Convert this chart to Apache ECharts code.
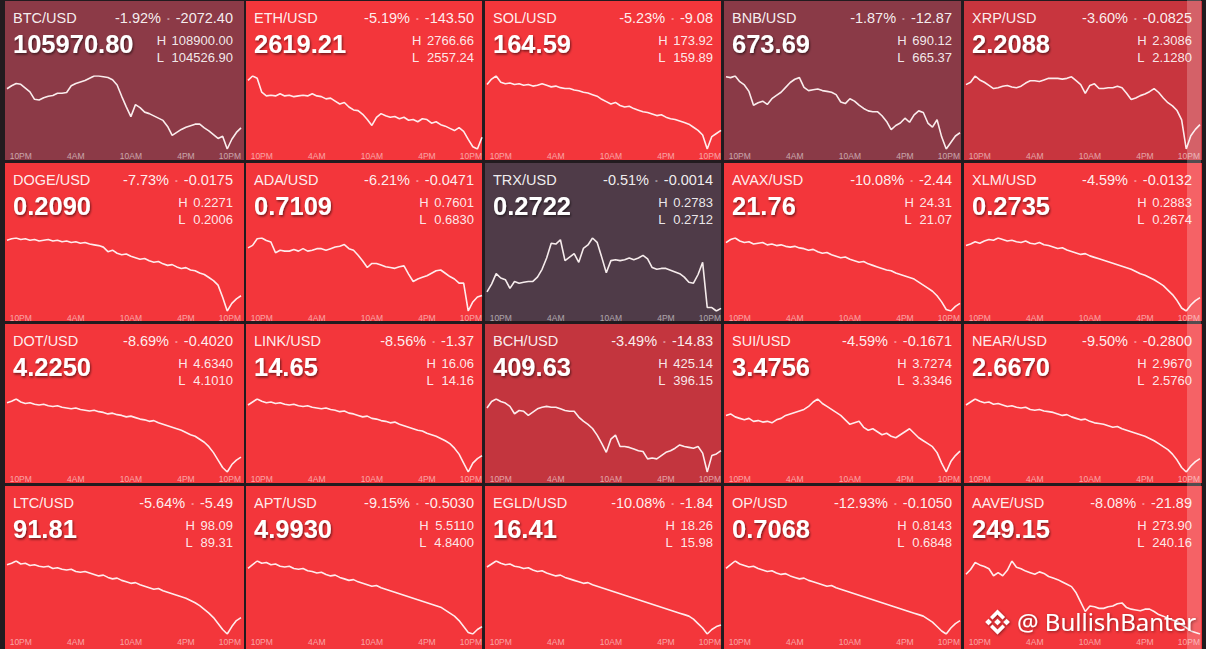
<!DOCTYPE html>
<html><head><meta charset="utf-8">
<script src="https://cdn.jsdelivr.net/npm/echarts@6/dist/echarts.min.js"></script>
<style>html,body{margin:0;padding:0;background:#221b1f;}#c{width:1206px;height:649px;}</style>
</head><body><div id="c"></div>
<script>
// ---- data ----
const pairs = ['BTC/USD','ETH/USD','SOL/USD','BNB/USD','XRP/USD','DOGE/USD','ADA/USD','TRX/USD','AVAX/USD','XLM/USD','DOT/USD','LINK/USD','BCH/USD','SUI/USD','NEAR/USD','LTC/USD','APT/USD','EGLD/USD','OP/USD','AAVE/USD'];
const changePct = ['-1.92%','-5.19%','-5.23%','-1.87%','-3.60%','-7.73%','-6.21%','-0.51%','-10.08%','-4.59%','-8.69%','-8.56%','-3.49%','-4.59%','-9.50%','-5.64%','-9.15%','-10.08%','-12.93%','-8.08%'];
const changeAbs = ['-2072.40','-143.50','-9.08','-12.87','-0.0825','-0.0175','-0.0471','-0.0014','-2.44','-0.0132','-0.4020','-1.37','-14.83','-0.1671','-0.2800','-5.49','-0.5030','-1.84','-0.1050','-21.89'];
const lastPrice = ['105970.80','2619.21','164.59','673.69','2.2088','0.2090','0.7109','0.2722','21.76','0.2735','4.2250','14.65','409.63','3.4756','2.6670','91.81','4.9930','16.41','0.7068','249.15'];
const highPrice = ['108900.00','2766.66','173.92','690.12','2.3086','0.2271','0.7601','0.2783','24.31','0.2883','4.6340','16.06','425.14','3.7274','2.9670','98.09','5.5110','18.26','0.8143','273.90'];
const lowPrice = ['104526.90','2557.24','159.89','665.37','2.1280','0.2006','0.6830','0.2712','21.07','0.2674','4.1010','14.16','396.15','3.3346','2.5760','89.31','4.8400','15.98','0.6848','240.16'];
const tickLabels = ['10PM','4AM','10AM','4PM','10PM'];

// intraday position within the day's range (0 = low, 100 = high), half-hour steps
const btcLine = [82,86,89,88,83,78,68,67,70,72,73,76,76,77,86,89,91,93,96,99,99,98,97,94,87,72,58,45,61,57,51,49,46,43,40,32,20,24,28,31,33,35,35,30,26,21,16,19,2,15,24,30];
const ethLine = [93,99,96,77,72,73,72,75,72,73,71,72,73,72,75,72,71,68,69,65,61,63,57,53,52,47,40,32,43,48,45,43,44,41,43,39,40,37,41,40,35,37,33,31,28,25,29,24,13,3,0,16];
const solLine = [85,92,96,88,86,87,85,86,84,85,83,84,86,84,82,83,81,80,80,78,77,75,74,72,70,66,63,60,62,58,56,57,54,52,50,49,47,45,46,43,41,40,38,36,34,30,26,20,2,18,22,26];
const bnbLine = [99,98,100,93,89,81,64,67,69,65,72,76,80,86,92,96,98,86,82,83,84,82,81,80,77,68,66,72,69,64,60,57,56,56,51,44,34,39,42,48,43,52,57,55,42,37,46,25,10,18,26,30];
const xrpLine = [87,90,98,93,90,86,82,83,85,86,84,83,85,89,92,92,91,93,95,95,95,94,95,97,92,87,76,86,88,82,82,83,83,85,83,76,68,70,73,75,78,82,77,70,64,60,54,42,5,22,30,36];
const dogeLine = [95,97,98,96,97,95,96,94,95,96,94,95,93,94,92,93,91,92,90,89,88,86,80,82,78,76,77,74,72,70,71,68,66,67,64,62,63,60,58,59,56,55,52,50,46,42,36,20,2,12,18,22];
const adaLine = [86,89,97,98,95,93,80,83,82,82,84,82,85,82,83,85,85,83,85,87,88,90,85,83,77,70,62,67,67,65,63,62,61,63,64,54,45,48,50,52,55,58,59,55,51,48,43,43,9,20,26,28];
const trxLine = [36,45,57,52,50,40,48,46,47,48,48,53,62,75,92,91,96,72,76,80,70,86,90,98,93,76,58,72,73,72,73,75,73,75,78,74,64,62,63,63,61,59,57,53,47,46,56,70,18,18,14,17];
const avaxLine = [92,96,98,94,92,93,90,91,92,89,90,88,89,87,86,87,85,84,82,83,80,78,79,76,74,72,73,70,68,66,67,64,62,60,58,56,55,52,50,48,46,44,40,36,32,28,22,14,4,2,8,12];
const xlmLine = [90,92,95,93,96,98,97,100,98,96,97,95,94,96,93,92,94,91,90,88,86,87,84,82,80,78,79,76,74,72,70,68,66,64,62,60,58,55,52,50,47,44,40,36,30,24,16,6,2,10,16,20];
const dotLine = [95,97,100,96,94,95,93,92,93,91,90,91,89,88,87,88,86,85,84,85,83,82,80,81,79,78,76,77,75,73,72,70,71,68,66,64,62,60,58,55,52,50,46,42,36,28,18,8,2,12,18,22];
const linkLine = [92,96,100,97,95,96,94,95,93,92,93,91,90,91,89,88,87,88,86,85,83,84,81,80,78,76,77,74,73,71,70,68,69,66,64,62,60,58,57,54,52,50,47,44,40,34,26,14,2,14,20,24];
const bchLine = [88,96,99,96,94,90,81,85,84,79,83,87,89,90,89,89,87,85,84,84,77,72,68,63,55,45,34,50,55,41,41,40,38,36,35,26,27,26,30,34,36,39,43,41,40,39,41,33,10,30,32,36];
const suiLine = [78,80,76,74,72,74,70,71,69,70,68,72,74,78,80,82,84,86,90,96,100,94,90,86,82,78,72,66,68,70,62,58,60,56,52,54,50,48,52,56,60,54,48,44,40,36,28,14,2,16,24,30];
const nearLine = [92,96,100,97,95,96,93,94,92,90,91,89,88,89,86,85,86,84,83,82,80,78,79,76,74,72,73,70,68,67,66,64,62,63,60,58,56,54,52,50,47,44,40,36,32,26,18,8,2,10,16,20];
const ltcLine = [95,97,100,96,97,94,95,93,92,93,90,91,89,88,89,86,85,86,84,82,80,81,78,76,77,74,72,70,71,68,66,64,62,63,60,58,56,54,52,50,47,44,40,35,30,24,16,8,2,12,20,24];
const aptLine = [90,95,100,97,98,95,96,93,92,93,90,89,90,87,86,84,85,82,80,81,78,76,74,75,72,70,68,66,67,64,62,60,58,56,54,52,50,48,46,44,42,40,38,34,30,26,20,12,4,2,8,12];
const egldLine = [92,96,100,97,95,96,93,92,90,91,88,86,87,84,82,80,81,78,76,74,72,70,71,68,66,64,62,60,58,56,54,52,50,48,46,44,42,40,38,36,34,32,30,28,26,22,16,10,2,8,12,14];
const opLine = [90,95,100,96,94,92,93,90,88,86,87,84,82,83,80,78,76,77,74,72,70,68,66,67,64,62,60,58,56,54,52,50,48,46,44,42,40,38,36,34,32,30,28,26,22,18,12,6,2,10,16,20];
const aaveLine = [82,88,97,94,92,89,80,84,80,87,99,91,89,86,84,82,85,83,79,77,75,72,69,66,58,46,34,41,40,38,38,40,41,44,45,39,37,36,35,37,37,34,30,28,25,23,21,17,13,9,7,5];
const lines = [btcLine,ethLine,solLine,bnbLine,xrpLine,dogeLine,adaLine,trxLine,avaxLine,xlmLine,dotLine,linkLine,bchLine,suiLine,nearLine,ltcLine,aptLine,egldLine,opLine,aaveLine];

// half-hour time slots, 8:30PM .. 10PM next day
const slots = [];
(function(){ let h = 20, m = 30; for (let i = 0; i < 52; i++) { const h12 = (h % 12) || 12; const ap = h < 12 ? 'AM' : 'PM'; slots.push(m ? h12 + ':30' + ap : h12 + ap); m += 30; if (m === 60) { m = 0; h = (h + 1) % 24; } } })();

// ---- layout ----
const colX = [5, 246, 485, 724, 964];
const colW = [239, 236, 236, 237, 238];
const rowY = [1, 163, 324, 486];
const rowH = [159, 158, 159, 163];
const FONT = '"Liberation Sans", Arial, Helvetica, sans-serif';

function mix(a, b, t) {
  const pa = [1,3,5].map(i => parseInt(a.substr(i,2),16));
  const pb = [1,3,5].map(i => parseInt(b.substr(i,2),16));
  return 'rgb(' + pa.map((v,i) => Math.round(v + (pb[i]-v)*t)).join(',') + ')';
}
function tileColor(p) {
  const v = Math.abs(parseFloat(p));
  const stops = [[0.5,'#4f3b48'],[1.9,'#8b3a47'],[3.55,'#c5353e'],[4.3,'#f3363b']];
  if (v <= stops[0][0]) return stops[0][1];
  for (let i = 1; i < stops.length; i++) {
    if (v <= stops[i][0]) return mix(stops[i-1][1], stops[i][1], (v - stops[i-1][0])/(stops[i][0]-stops[i-1][0]));
  }
  return stops[stops.length-1][1];
}

const ctx = document.createElement('canvas').getContext('2d');
function textW(t, font) { ctx.font = font; return ctx.measureText(t).width; }

const grids = [], xAxes = [], yAxes = [], series = [], graphics = [];
pairs.forEach((name, i) => {
  const c = i % 5, r = Math.floor(i / 5);
  const tx = colX[c], ty = rowY[r];
  graphics.push({ type: 'rect', z: -10, shape: { x: tx, y: ty, width: colW[c], height: rowH[r] }, style: { fill: tileColor(changePct[i]) } });
  grids.push({ left: tx + 2, top: ty + 75, width: 234, height: 73 });
  xAxes.push({ type: 'category', gridIndex: i, data: slots, boundaryGap: false,
    axisLine: { show: false }, axisTick: { show: false }, splitLine: { show: false },
    axisLabel: { interval: (idx, val) => tickLabels.indexOf(val) >= 0, color: 'rgba(255,255,255,0.55)', fontSize: 8.5, fontFamily: FONT, margin: r === 3 ? 3 : 2, alignMaxLabel: 'right', showMaxLabel: true } });
  yAxes.push({ type: 'value', gridIndex: i, show: false, scale: true, min: 'dataMin', max: 'dataMax' });
  series.push({ type: 'line', xAxisIndex: i, yAxisIndex: i, data: lines[i], symbol: 'none', silent: true,
    lineStyle: { color: 'rgba(255,246,246,0.95)', width: 1.6 } });
  // texts
  graphics.push({ type: 'text', z: 20, style: { x: tx + 8, y: ty + 17, text: name, fill: 'rgba(255,255,255,0.93)', font: '14.5px ' + FONT, verticalAlign: 'middle' } });
  graphics.push({ type: 'text', z: 20, style: { x: tx + 228, y: ty + 17, align: 'right', verticalAlign: 'middle',
    text: '{a|' + changePct[i] + '}{d|•}{a|' + changeAbs[i] + '}',
    rich: { a: { fill: 'rgba(255,255,255,0.93)', font: '14.5px ' + FONT }, d: { fill: 'rgba(255,255,255,0.45)', font: '8px ' + FONT, padding: [0, 6, 0, 6] } } } });
  graphics.push({ type: 'text', z: 20, style: { x: tx + 8, y: ty + 43, text: lastPrice[i], fill: '#ffffff', font: 'bold 25.5px ' + FONT, verticalAlign: 'middle',
    textShadowColor: 'rgba(0,0,0,0.55)', textShadowBlur: 2, textShadowOffsetX: 1, textShadowOffsetY: 1.5 } });
  const f13 = '13px ' + FONT;
  const wMax = Math.max(textW(highPrice[i], f13), textW(lowPrice[i], f13));
  const letterX = tx + 228 - wMax - 5.5 - textW('H', f13);
  [['H', highPrice[i], 39.5], ['L', lowPrice[i], 56]].forEach(([L, v, dy]) => {
    graphics.push({ type: 'text', z: 20, style: { x: tx + 228, y: ty + dy, text: v, align: 'right', verticalAlign: 'middle', fill: 'rgba(255,255,255,0.9)', font: f13 } });
    graphics.push({ type: 'text', z: 20, style: { x: letterX, y: ty + dy, text: L, align: 'left', verticalAlign: 'middle', fill: 'rgba(255,255,255,0.9)', font: f13 } });
  });
});

// light vertical strip on right edge
graphics.push({ type: 'rect', z: 50, shape: { x: 1187, y: 0, width: 14, height: 649 }, style: { fill: 'rgba(255,255,255,0.22)' } });
// watermark
const lx = 997.5, ly = 622;
const shadow = { shadowColor: 'rgba(0,0,0,0.45)', shadowBlur: 3, shadowOffsetX: 1, shadowOffsetY: 1 };
function diamond(cx, cy, s) { return [[cx, cy - s], [cx + s, cy], [cx, cy + s], [cx - s, cy]]; }
[diamond(lx, ly, 3.3), diamond(lx - 9, ly, 3.3), diamond(lx + 9, ly, 3.3),
 [[lx, ly - 12.5], [lx + 7.5, ly - 5], [lx + 5, ly - 2.5], [lx, ly - 7.5], [lx - 5, ly - 2.5], [lx - 7.5, ly - 5]],
 [[lx, ly + 12.5], [lx + 7.5, ly + 5], [lx + 5, ly + 2.5], [lx, ly + 7.5], [lx - 5, ly + 2.5], [lx - 7.5, ly + 5]]
].forEach(pts => graphics.push({ type: 'polygon', z: 60, shape: { points: pts }, style: Object.assign({ fill: '#ffffff' }, shadow) }));
graphics.push({ type: 'text', z: 60, style: { x: 1017, y: 621.5, text: '@ BullishBanter', fill: '#ffffff', font: '24px "Noto Sans", ' + FONT, verticalAlign: 'middle',
  textShadowColor: 'rgba(0,0,0,0.45)', textShadowBlur: 3, textShadowOffsetX: 1, textShadowOffsetY: 1 } });

const chart = echarts.init(document.getElementById('c'), null, { renderer: 'svg' });
chart.setOption({ backgroundColor: '#221b1f', animation: false, grid: grids, xAxis: xAxes, yAxis: yAxes, series: series, graphic: { elements: graphics } });
</script></body></html>
